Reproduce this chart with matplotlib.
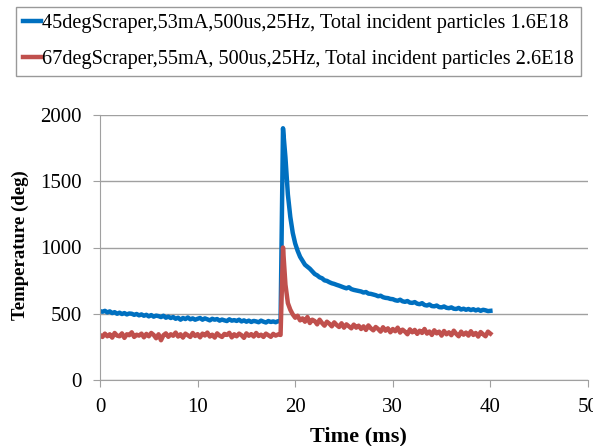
import numpy as np
import matplotlib.pyplot as plt

plt.rcParams['font.family'] = ['Liberation Serif', 'DejaVu Serif']

# time axis (ms), sampled every 0.25 ms
time_ms = np.arange(0, 40.01, 0.25)

label_45 = '45degScraper,53mA,500us,25Hz, Total incident particles 1.6E18'
label_67 = '67degScraper,55mA, 500us,25Hz, Total incident particles 2.6E18'

temp_45 = [
    520, 515, 522, 510, 518, 505, 512, 500,
    508, 498, 505, 495, 502, 500, 492, 498,
    488, 495, 485, 492, 480, 490, 478, 486,
    482, 475, 485, 470, 478, 468, 475, 462,
    470, 455, 468, 460, 472, 458, 465, 455,
    462, 468, 455, 465, 458, 450, 462, 455,
    460, 448, 456, 450, 445, 458, 448, 452,
    446, 455, 442, 450, 440, 448, 438, 446,
    442, 436, 448, 440, 434, 445, 438, 442,
    436, 444, 440, 1900, 1680, 1400, 1230, 1110,
    1030, 975, 930, 900, 870, 855, 840, 820,
    800, 790, 775, 768, 752, 748, 738, 730,
    725, 718, 712, 705, 698, 692, 700, 686,
    680, 676, 672, 668, 660, 664, 652, 650,
    645, 640, 632, 636, 625, 620, 618, 612,
    610, 602, 598, 606, 594, 590, 596, 584,
    582, 588, 576, 572, 580, 566, 562, 570,
    558, 556, 562, 550, 548, 555, 545, 542,
    548, 538, 536, 544, 532, 538, 530, 536,
    528, 534, 525, 532, 522, 530, 526, 520,
    522,
]

temp_67 = [
    340, 325, 350, 330, 345, 320, 355, 335,
    330, 352, 318, 345, 338, 360, 325, 342,
    335, 350, 322, 348, 330, 355, 340, 315,
    345, 300, 338, 352, 326, 345, 334, 358,
    328, 345, 320, 350, 338, 325, 355, 332,
    346, 322, 350, 336, 358, 328, 342, 320,
    352, 335, 325, 348, 340, 356, 322, 345,
    330, 350, 338, 318, 352, 334, 346, 328,
    355, 332, 342, 325, 350, 338, 326, 348,
    335, 344, 340, 1000, 720, 580, 530, 495,
    470, 485, 450, 465, 440, 475, 430, 455,
    445, 420, 455, 430, 410, 440, 425, 405,
    435, 415, 400, 428, 395, 420, 405, 390,
    418, 395, 410, 385, 405, 378, 412, 390,
    375, 400, 385, 365, 398, 372, 390, 360,
    385, 368, 395, 358, 380, 365, 345, 382,
    360, 378, 348, 372, 355, 385, 350, 366,
    340, 375, 352, 365, 335, 370, 345, 360,
    338, 372, 348, 330, 365, 342, 358, 335,
    368, 340, 355, 328, 362, 345, 330, 365,
    350,
]

fig = plt.figure(figsize=(5.93, 4.46), dpi=100)
ax = fig.add_axes([100 / 593, 1 - 380 / 446, 488 / 593, 265 / 446])

l1, = ax.plot(time_ms, temp_45, color='#0070C0', lw=3.2, label=label_45)
l2, = ax.plot(time_ms, temp_67, color='#C0504D', lw=3.2, label=label_67)

ax.set_xlim(0, 50)
ax.set_ylim(0, 2000)
ax.set_xticks([0, 10, 20, 30, 40, 50])
ax.set_yticks([0, 500, 1000, 1500, 2000])
ax.yaxis.grid(True, color='#a0a0a0', lw=1)
ax.set_axisbelow(True)
for s in ['top', 'right']:
    ax.spines[s].set_visible(False)
for s in ['left', 'bottom']:
    ax.spines[s].set_color('#a0a0a0')
ax.tick_params(colors='#a0a0a0', labelcolor='black', labelsize=15, length=5, pad=8)

ax.set_xlabel('Time (ms)', fontsize=16, fontweight='bold')
ax.set_ylabel('Temperature (deg)', fontsize=13.5, fontweight='bold')
ax.xaxis.set_label_coords(0.53, -0.175)
ax.yaxis.set_label_coords(-0.145, 0.51)

fig.legend(handles=[l1, l2], loc='upper left', bbox_to_anchor=(16 / 593, 1 - 7 / 446),
           fontsize=14.6, frameon=True, fancybox=False, edgecolor='#808080',
           handlelength=0.9, handletextpad=0.05, labelspacing=0.8, borderpad=0.35,
           borderaxespad=0)

fig.savefig('out.png', dpi=100)
